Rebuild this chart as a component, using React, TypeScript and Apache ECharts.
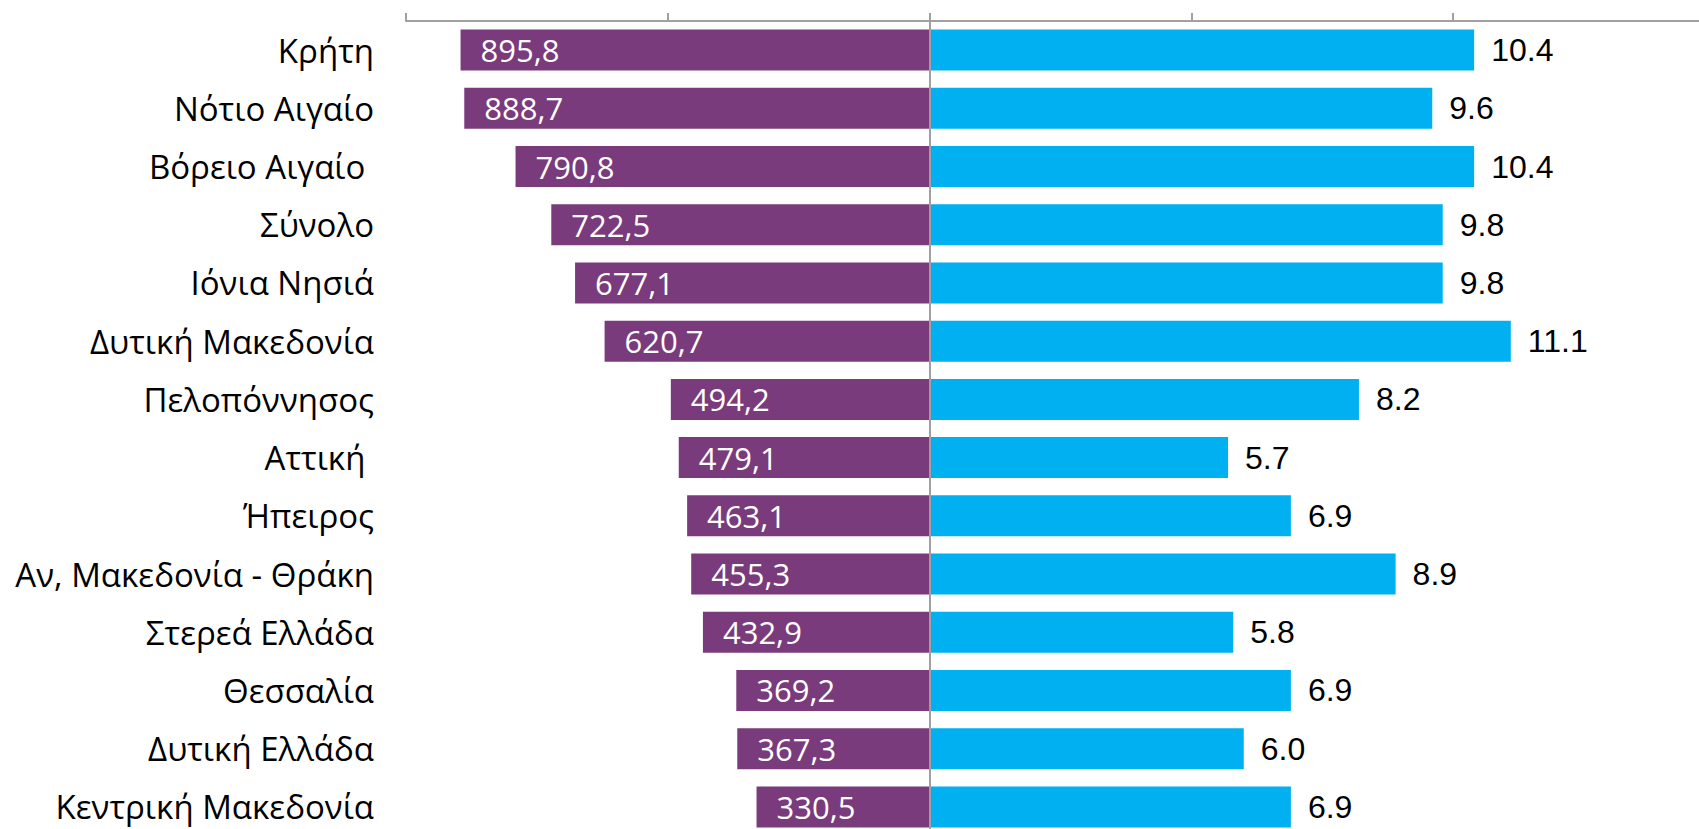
import React, { useEffect, useRef } from "react";
import * as echarts from "echarts";

const categories = [
  "Κρήτη",
  "Νότιο Αιγαίο",
  "Βόρειο Αιγαίο ",
  "Σύνολο",
  "Ιόνια Νησιά",
  "Δυτική Μακεδονία",
  "Πελοπόννησος",
  "Αττική ",
  "Ήπειρος",
  "Αν, Μακεδονία - Θράκη",
  "Στερεά Ελλάδα",
  "Θεσσαλία",
  "Δυτική Ελλάδα",
  "Κεντρική Μακεδονία",
];

const purpleValues = [895.8, 888.7, 790.8, 722.5, 677.1, 620.7, 494.2, 479.1, 463.1, 455.3, 432.9, 369.2, 367.3, 330.5];
const cyanValues = [10.4, 9.6, 10.4, 9.8, 9.8, 11.1, 8.2, 5.7, 6.9, 8.9, 5.8, 6.9, 6.0, 6.9];

const PURPLE = "#793B7B";
const CYAN = "#00B0F0";
const AXIS_GRAY = "#A0A0A0";

export default function App() {
  const ref = useRef<HTMLDivElement>(null);

  useEffect(() => {
    if (!ref.current) return;
    const chart = echarts.init(ref.current, null, { renderer: "svg" });
    chart.setOption({
      animation: false,
      grid: {
        left: 406,
        top: 21,
        width: 1309,
        height: 815,
        containLabel: false,
        outerBoundsMode: "none",
      },
      xAxis: [
        {
          type: "value",
          position: "top",
          min: -1000,
          max: 1500,
          interval: 500,
          axisLine: { show: true, lineStyle: { color: AXIS_GRAY, width: 2 } },
          axisTick: { show: true, length: 8, lineStyle: { color: AXIS_GRAY, width: 2 } },
          axisLabel: { show: false },
          splitLine: { show: false },
        },
        {
          type: "value",
          position: "top",
          min: -10,
          max: 15,
          show: false,
          splitLine: { show: false },
        },
      ],
      yAxis: {
        type: "category",
        data: categories,
        inverse: true,
        axisLine: { show: false },
        axisTick: { show: false },
        axisLabel: {
          margin: 32,
          color: "#000",
          fontFamily: "Open Sans",
          fontSize: 33,
        },
      },
      series: [
        {
          type: "bar",
          name: "purple",
          xAxisIndex: 0,
          data: purpleValues.map((v) => -v),
          barWidth: 41,
          barGap: "-100%",
          itemStyle: { color: PURPLE },
          label: {
            show: true,
            position: "insideLeft",
            distance: 20,
            color: "#fff",
            fontFamily: "Open Sans",
            fontSize: 31,
            formatter: (p: any) => Math.abs(p.value).toFixed(1).replace(".", ","),
          },
        },
        {
          type: "bar",
          name: "cyan",
          xAxisIndex: 1,
          data: cyanValues,
          barWidth: 41,
          barGap: "-100%",
          itemStyle: { color: CYAN },
          label: {
            show: true,
            position: "right",
            distance: 17,
            color: "#000",
            fontFamily: "Liberation Sans",
            fontSize: 32,
            formatter: (p: any) => Number(p.value).toFixed(1),
          },
          markLine: {
            silent: true,
            symbol: "none",
            label: { show: false },
            lineStyle: { color: AXIS_GRAY, width: 2, type: "solid" },
            data: [{ xAxis: 0 }],
          },
        },
      ],
    });
    return () => chart.dispose();
  }, []);

  return (
    <div
      ref={ref}
      style={{ position: "fixed", left: 0, top: 0, width: 1699, height: 829, background: "#fff" }}
    />
  );
}
